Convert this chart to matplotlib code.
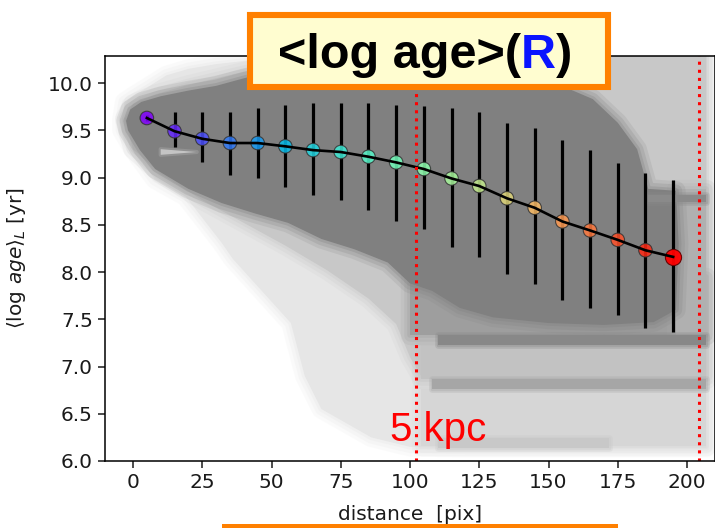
import numpy as np
import matplotlib
matplotlib.use("Agg")
import matplotlib.pyplot as plt
from matplotlib.patches import Rectangle, Polygon
from matplotlib.text import Annotation

W, H, DPI = 715, 528, 100

# ---- radial profile of the luminosity-weighted log age ----
dist = [5, 15, 25, 35, 45, 55, 65, 75, 85, 95,
        105, 115, 125, 135, 145, 155, 165, 175, 185, 195]
mean_age = [9.63, 9.49, 9.41, 9.365, 9.365, 9.33, 9.29, 9.27, 9.22, 9.16,
            9.09, 8.99, 8.91, 8.78, 8.68, 8.535, 8.44, 8.34, 8.23, 8.16]
age_upper = [9.66, 9.69, 9.69, 9.69, 9.74, 9.77, 9.79, 9.79, 9.79, 9.77,
             9.76, 9.74, 9.69, 9.58, 9.52, 9.40, 9.29, 9.15, 9.05, 8.97]
age_lower = [9.60, 9.32, 9.16, 9.03, 8.99, 8.90, 8.82, 8.76, 8.66, 8.54,
             8.455, 8.26, 8.16, 7.98, 7.87, 7.70, 7.62, 7.54, 7.41, 7.37]

# ---- pixel cloud, described by its density envelopes ----
# faint outer halo of individual pixels
halo_x = [-4, -3, 0, 5, 12, 20, 30, 45, 100, 207, 207, 120, 100, 86, 68, 62,
          57, 36, 32, 19, 8, 0, -4]
halo_y = [9.62, 9.80, 9.86, 9.95, 10.08, 10.15, 10.20, 10.25, 10.29, 10.29,
          6.14, 6.14, 6.15, 6.25, 6.55, 6.90, 7.46, 8.14, 8.31, 8.80, 8.98,
          9.30, 9.50]
# denser mottled zone hugging the main sequence
mid_x = [-3, 0, 8, 20, 40, 55, 70, 85, 100, 207, 207, 104, 100, 95, 85, 70,
         55, 40, 25, 10, 0]
mid_y = [9.62, 9.78, 9.88, 9.98, 10.12, 10.2, 10.25, 10.28, 10.29, 10.29,
         6.9, 6.9, 7.1, 7.45, 7.72, 8.02, 8.28, 8.52, 8.76, 9.04, 9.3]
# saturated core of overlapping pixels
core_x = [-2.5, -1, 3, 10, 20, 30, 40, 50, 80, 120, 150, 158, 166, 175, 182,
          186, 196, 197, 196, 188, 170, 150, 130, 118, 108, 100, 92, 80, 68,
          56, 44, 32, 20, 8, 2.5, -1.8]
core_y = [9.60, 9.72, 9.80, 9.86, 9.92, 9.97, 10.05, 10.12, 10.2, 10.2, 10.0,
          9.93, 9.83, 9.58, 9.30, 8.88, 8.86, 8.3, 7.6, 7.47, 7.44, 7.46,
          7.52, 7.62, 7.8, 7.88, 8.10, 8.24, 8.35, 8.52, 8.62, 8.73, 8.88,
          9.09, 9.29, 9.50]
# thin gap between the two arms near the centre
gap_x = [10, 23, 10]
gap_y = [9.30, 9.27, 9.24]
# horizontal zones and bands of young-age pixels:
# (x_start, x_end, y_low, y_high, colour)
zones = [(104, 207, 6.16, 6.76, "#d6d6d6"),
         (104, 207, 6.87, 7.23, "#c2c2c2"),
         (100, 207, 7.33, 7.95, "#9e9e9e"),
         (196, 207, 7.33, 8.88, "#b0b0b0")]
bands = [(110, 207, 7.23, 7.33, "#888888"),
         (108, 207, 6.76, 6.87, "#a6a6a6"),
         (110, 172, 6.14, 6.24, "#c8c8c8"),
         (186, 207, 8.74, 8.82, "#8a8a8a")]

xticks = [0, 25, 50, 75, 100, 125, 150, 175, 200]
yticks = [6.0, 6.5, 7.0, 7.5, 8.0, 8.5, 9.0, 9.5, 10.0]

fig = plt.figure(figsize=(W / DPI, H / DPI), dpi=DPI)
ax = fig.add_axes([105.3 / W, 67 / H, 609.4 / W, 405 / H])


def soft_fill(verts, color, z, edge=((14, 0.16), (9, 0.22), (4, 0.3))):
    """Filled region with a feathered rim, like a crowd of translucent dots."""
    for lw, a in edge:
        ax.add_patch(Polygon(verts, closed=True, facecolor="none",
                             edgecolor=color, lw=lw, alpha=a,
                             joinstyle="round", zorder=z))
    ax.add_patch(Polygon(verts, closed=True, facecolor=color,
                         edgecolor="none", zorder=z))


def box_verts(x0, x1, y0, y1):
    return [(x0, y0), (x1, y0), (x1, y1), (x0, y1)]


soft_fill(np.column_stack([halo_x, halo_y]), "#e6e6e6", 1.0)
soft_fill(np.column_stack([mid_x, mid_y]), "#c8c8c8", 1.1)
for i, (x0, x1, y0, y1, c) in enumerate(zones):
    soft_fill(box_verts(x0, x1, y0, y1), c, 1.2 + 0.01 * i)
soft_fill(np.column_stack([core_x, core_y]), "#808080", 1.3)
soft_fill(np.column_stack([gap_x, gap_y]), "#c4c4c4", 1.4,
          edge=((3, 0.25),))
for i, (x0, x1, y0, y1, c) in enumerate(bands):
    soft_fill(box_verts(x0, x1, y0, y1), c, 1.5 + 0.01 * i,
              edge=((5, 0.25), (2.5, 0.35)))

# profile: error bars, coloured bins, connecting line
d = np.array(dist)
m = np.array(mean_age)
yerr = [m - np.array(age_lower), np.array(age_upper) - m]
ax.errorbar(d, m, yerr=yerr, fmt="none", ecolor="black", elinewidth=2.3,
            capsize=0, zorder=3)
cols = plt.cm.rainbow(np.linspace(0, 1, len(dist)))
ax.scatter(d[:-1], m[:-1], s=95, c=cols[:-1], alpha=0.85,
           edgecolors=(0.2, 0.2, 0.2, 0.35), linewidths=0.8, zorder=4)
ax.scatter(d[-1:], m[-1:], s=135, c=[cols[-1]], alpha=0.95,
           edgecolors=(0.4, 0, 0, 0.4), linewidths=0.8, zorder=4)
ax.plot(d, m, color="black", lw=1.9, zorder=5)

# 5 and 10 kpc marks
ax.axvline(102.2, color="red", ls=":", lw=2.2, zorder=6)
ax.axvline(204.4, color="red", ls=":", lw=2.2, zorder=6)
ax.text(92.8, 6.21, "5 kpc", color="red", fontsize=29,
        family="Liberation Sans", va="baseline", ha="left", zorder=7)

ax.set_xlim(-10, 210)
ax.set_ylim(6.0, 10.286)
ax.set_xticks(xticks)
ax.set_yticks(yticks)
ax.set_yticklabels([f"{v:.1f}" for v in yticks])
ax.tick_params(labelsize=14.5, length=5, width=1.1, pad=4, colors="#1a1a1a")
for s in ax.spines.values():
    s.set_linewidth(1.1)
    s.set_zorder(8)
ax.set_xlabel("distance  [pix]", fontsize=14.5, color="#1a1a1a", labelpad=9)
ax.set_ylabel(r"$\langle \log\, age\rangle_L$ [yr]", fontsize=14.5,
              color="#1a1a1a")
ax.yaxis.set_label_coords(-0.1274, 0.5)

# title box
orange = "#ff8000"
fig.add_artist(Rectangle((250 / W, (H - 87) / H), 358 / W, 72 / H,
                         transform=fig.transFigure, facecolor="#fffdd0",
                         edgecolor=orange, linewidth=4.4, zorder=10))
title_font = dict(fontsize=35, fontweight="bold", family="Liberation Sans")
t1 = fig.text(278 / W, (H - 68) / H, "<log age>(", color="black",
              va="baseline", ha="left", zorder=11, **title_font)
t2 = Annotation("R", xy=(1, 0), xycoords=t1, va="bottom", ha="left",
                color="#0a14ff", zorder=11, **title_font)
fig.add_artist(t2)
t3 = Annotation(")", xy=(1, 0), xycoords=t2, va="bottom", ha="left",
                color="black", zorder=11, **title_font)
fig.add_artist(t3)

# top border of the panel below
fig.add_artist(Rectangle((222 / W, -0.05), 396 / W, 0.05 + 4.5 / H,
                         transform=fig.transFigure, facecolor=orange,
                         edgecolor="none", zorder=10))

fig.savefig("out.png", dpi=DPI)
